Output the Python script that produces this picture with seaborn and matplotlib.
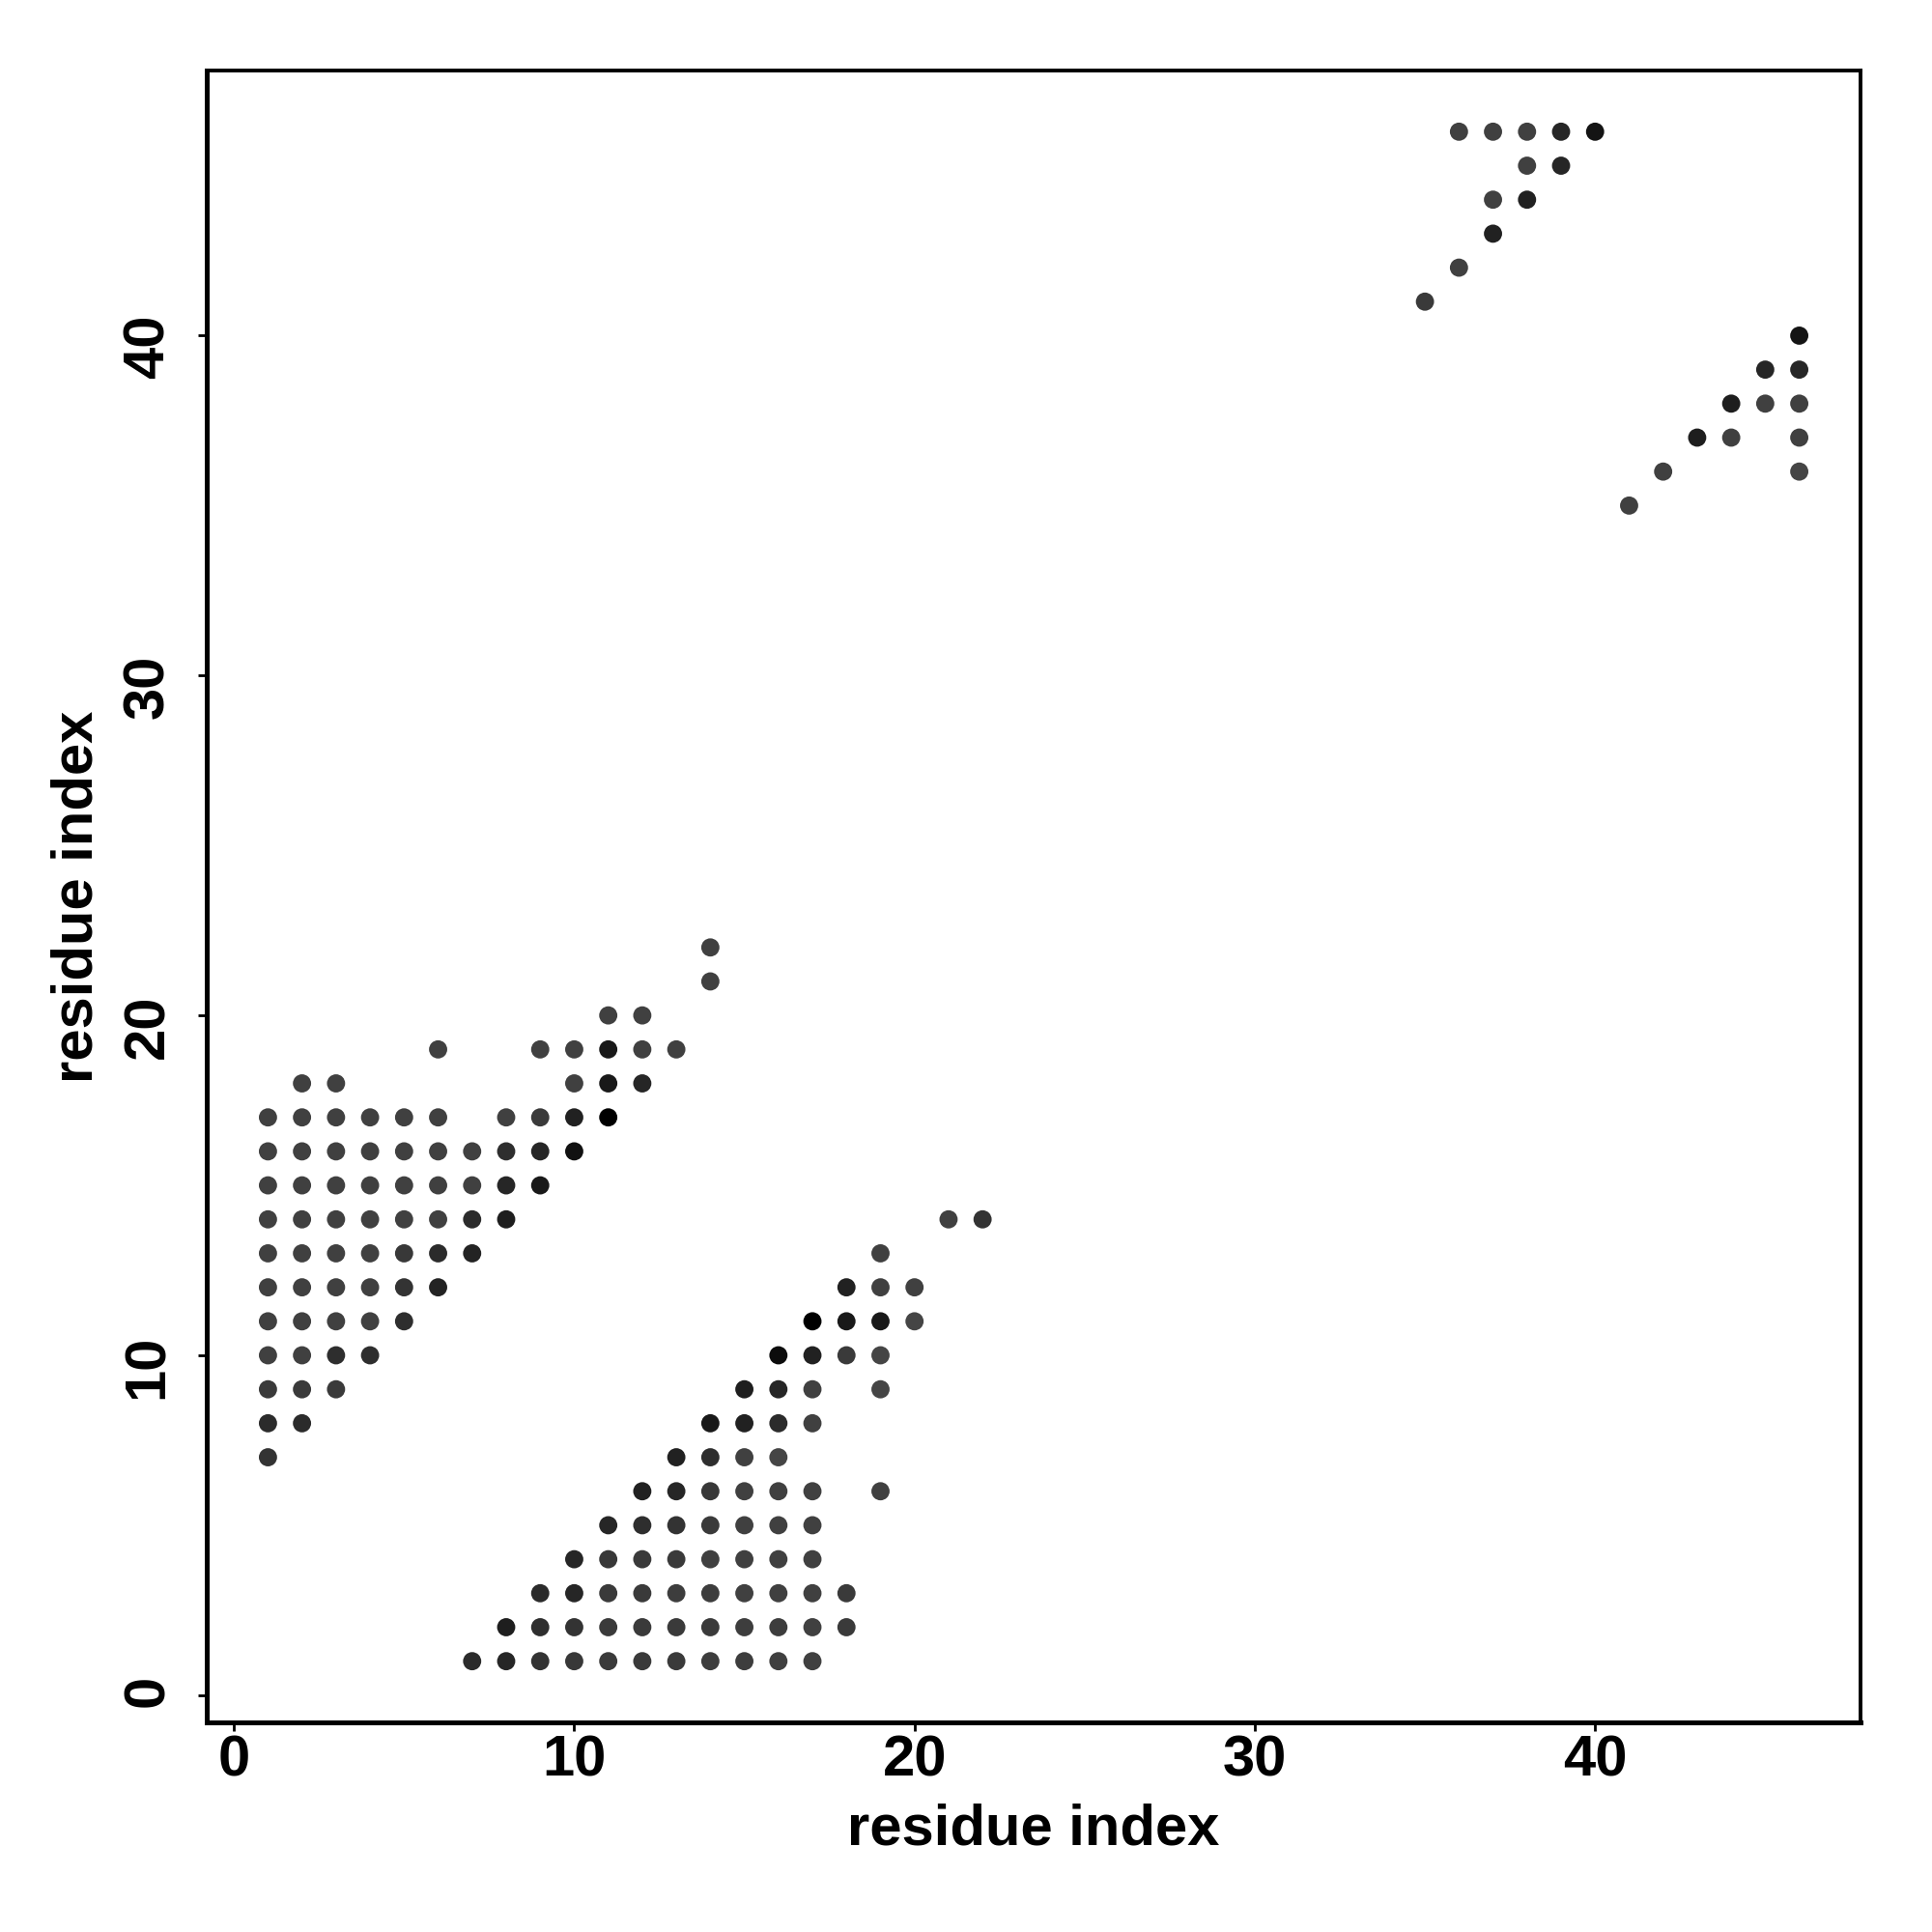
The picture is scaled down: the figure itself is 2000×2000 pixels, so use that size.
import pandas as pd
import matplotlib
matplotlib.use("Agg")
import matplotlib.pyplot as plt
import seaborn as sns

# === contact map data: each row = one y value, with its x values and grey level (0 = black) ===
upper_y = [22, 21, 20, 19, 18, 17, 16, 15, 14, 13, 12, 11, 10, 9, 8, 7]
upper_x = [
    [14],
    [14],
    [11, 12],
    [6, 9, 10, 11, 12, 13],
    [2, 3, 10, 11, 12],
    [1, 2, 3, 4, 5, 6, 8, 9, 10, 11],
    [1, 2, 3, 4, 5, 6, 7, 8, 9, 10],
    [1, 2, 3, 4, 5, 6, 7, 8, 9],
    [1, 2, 3, 4, 5, 6, 7, 8],
    [1, 2, 3, 4, 5, 6, 7],
    [1, 2, 3, 4, 5, 6],
    [1, 2, 3, 4, 5],
    [1, 2, 3, 4],
    [1, 2, 3],
    [1, 2],
    [1],
]
upper_grey = [
    [0.25],
    [0.25],
    [0.25, 0.25],
    [0.25, 0.25, 0.25, 0.10, 0.25, 0.25],
    [0.25, 0.25, 0.25, 0.10, 0.15],
    [0.25, 0.25, 0.25, 0.25, 0.25, 0.25, 0.25, 0.23, 0.13, 0.00],
    [0.25, 0.25, 0.25, 0.25, 0.25, 0.25, 0.25, 0.18, 0.15, 0.07],
    [0.25, 0.25, 0.25, 0.25, 0.25, 0.25, 0.25, 0.15, 0.10],
    [0.25, 0.25, 0.25, 0.25, 0.25, 0.25, 0.17, 0.12],
    [0.25, 0.25, 0.25, 0.25, 0.22, 0.17, 0.14],
    [0.25, 0.25, 0.25, 0.25, 0.20, 0.14],
    [0.25, 0.25, 0.25, 0.25, 0.18],
    [0.25, 0.25, 0.18, 0.18],
    [0.23, 0.23, 0.23],
    [0.17, 0.17],
    [0.20],
]

lower_y = [14, 13, 12, 11, 10, 9, 8, 7, 6, 5, 4, 3, 2, 1]
lower_x = [
    [21, 22],
    [19],
    [18, 19, 20],
    [17, 18, 19, 20],
    [16, 17, 18, 19],
    [15, 16, 17, 19],
    [14, 15, 16, 17],
    [13, 14, 15, 16],
    [12, 13, 14, 15, 16, 17, 19],
    [11, 12, 13, 14, 15, 16, 17],
    [10, 11, 12, 13, 14, 15, 16, 17],
    [9, 10, 11, 12, 13, 14, 15, 16, 17, 18],
    [8, 9, 10, 11, 12, 13, 14, 15, 16, 17, 18],
    [7, 8, 9, 10, 11, 12, 13, 14, 15, 16, 17],
]
lower_grey = [
    [0.25, 0.20],
    [0.25],
    [0.13, 0.25, 0.25],
    [0.00, 0.10, 0.10, 0.27],
    [0.05, 0.13, 0.23, 0.27],
    [0.12, 0.15, 0.25, 0.27],
    [0.10, 0.13, 0.17, 0.25],
    [0.13, 0.18, 0.25, 0.27],
    [0.13, 0.15, 0.22, 0.25, 0.25, 0.25, 0.25],
    [0.15, 0.18, 0.20, 0.23, 0.25, 0.25, 0.25],
    [0.15, 0.22, 0.23, 0.23, 0.25, 0.25, 0.25, 0.25],
    [0.17, 0.15, 0.23, 0.23, 0.24, 0.24, 0.25, 0.25, 0.25, 0.23],
    [0.12, 0.18, 0.20, 0.23, 0.23, 0.23, 0.23, 0.24, 0.24, 0.25, 0.23],
    [0.17, 0.15, 0.20, 0.22, 0.23, 0.23, 0.23, 0.24, 0.24, 0.25, 0.25],
]

top_y = [46, 45, 44, 43, 42, 41]
top_x = [[36, 37, 38, 39, 40], [38, 39], [37, 38], [37], [36], [35]]
top_grey = [[0.25, 0.25, 0.25, 0.15, 0.08], [0.25, 0.15], [0.25, 0.13], [0.13], [0.25], [0.23]]

right_y = [40, 39, 38, 37, 36, 35]
right_x = [[46], [45, 46], [44, 45, 46], [43, 44, 46], [42, 46], [41]]
right_grey = [[0.08], [0.15, 0.15], [0.12, 0.25, 0.25], [0.12, 0.25, 0.25], [0.25, 0.27], [0.25]]

# === build long table ===
records = []
for ys, xs, gs in [(upper_y, upper_x, upper_grey), (lower_y, lower_x, lower_grey),
                   (top_y, top_x, top_grey), (right_y, right_x, right_grey)]:
    for y, row_x, row_g in zip(ys, xs, gs):
        for x, g in zip(row_x, row_g):
            records.append({'x': x, 'y': y, 'grey': g})
df = pd.DataFrame(records)

# === plot ===
sns.set_style("white")
plt.rcParams['font.family'] = ['Liberation Sans', 'DejaVu Sans']
plt.rcParams['font.weight'] = 'bold'
plt.rcParams['text.color'] = 'black'
plt.rcParams['axes.labelcolor'] = 'black'
plt.rcParams['xtick.color'] = 'black'
plt.rcParams['ytick.color'] = 'black'

fig = plt.figure(figsize=(10, 10), dpi=200)
ax = fig.add_axes([0.107, 0.1085, 0.856, 0.855])

sns.scatterplot(data=df, x='x', y='y', hue='grey', palette='gray', hue_norm=(0, 1),
                s=46, linewidth=0, legend=False, ax=ax)

ax.set_xlim(-0.8, 47.8)
ax.set_ylim(-0.8, 47.8)
ax.set_xticks([0, 10, 20, 30, 40])
ax.set_yticks([0, 10, 20, 30, 40])
ax.tick_params(axis='both', direction='out', length=3.3, width=1.0, colors='black',
               labelsize=21.5, bottom=True, left=True)
ax.tick_params(axis='x', pad=1.2)
ax.tick_params(axis='y', pad=8.5)
for lab in ax.get_yticklabels():
    lab.set_rotation(90)
    lab.set_fontweight('bold')
for lab in ax.get_xticklabels():
    lab.set_fontweight('bold')

for side in ['top', 'right']:
    ax.spines[side].set_linewidth(1.4)
    ax.spines[side].set_color('black')
for side in ['left', 'bottom']:
    ax.spines[side].set_linewidth(1.8)
    ax.spines[side].set_color('black')

ax.set_xlabel("residue index", fontsize=21.5, fontweight='bold', color='black')
ax.set_ylabel("residue index", fontsize=21.5, fontweight='bold', color='black')
ax.xaxis.set_label_coords(0.5, -0.049)
ax.yaxis.set_label_coords(-0.062, 0.5)

fig.savefig("out.png", dpi=200)
